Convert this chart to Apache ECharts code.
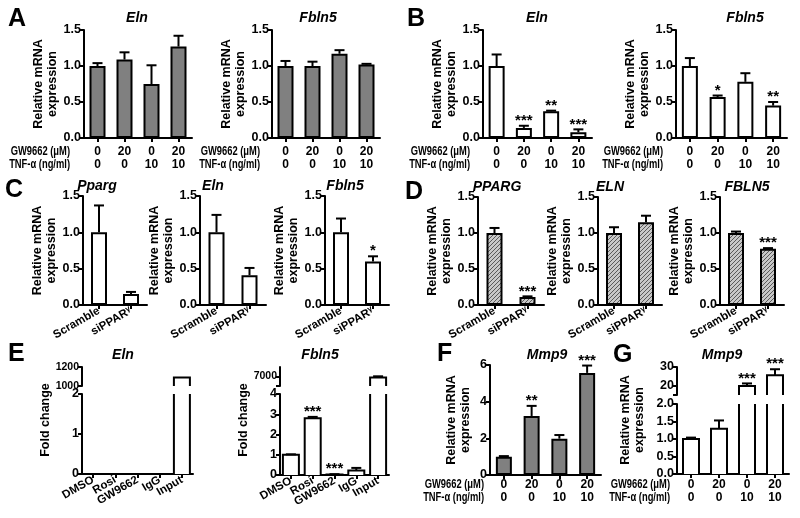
<!DOCTYPE html>
<html><head><meta charset="utf-8">
<script src="https://cdn.jsdelivr.net/npm/echarts@6/dist/echarts.min.js"></script>
<style>html,body{margin:0;padding:0;background:#fff}#c{width:800px;height:518px}</style>
</head><body><div id="c"></div><script>
// ---------- data ----------
const gwDose = ['0','20','0','20'];
const tnfDose = ['0','0','10','10'];
const siCats = ['Scramble','siPPARγ'];
const chipCats = ['DMSO','Rosi','GW9662','IgG','Input'];

const aElnVal=[1.00,1.09,0.75,1.27], aElnErr=[0.04,0.10,0.26,0.15];
const aFblVal=[1.00,1.00,1.17,1.02], aFblErr=[0.07,0.06,0.05,0.01];
const bElnVal=[1.00,0.14,0.37,0.08], bElnErr=[0.16,0.03,0.01,0.04], bElnSig=['','***','**','***'];
const bFblVal=[1.00,0.57,0.78,0.45], bFblErr=[0.11,0.02,0.12,0.05], bFblSig=['','*','','**'];
const cPpargVal=[1.00,0.15], cPpargErr=[0.37,0.03];
const cElnVal=[1.00,0.41], cElnErr=[0.24,0.10];
const cFblVal=[1.00,0.60], cFblErr=[0.19,0.07], cFblSig=['','*'];
const dPpargVal=[1.00,0.11], dPpargErr=[0.07,0.01], dPpargSig=['','***'];
const dElnVal=[1.00,1.15], dElnErr=[0.08,0.09];
const dFblVal=[1.00,0.78], dFblErr=[0.02,0.01], dFblSig=['','***'];
const eElnVal=[0,0,0,0,1090], eElnErr=[0,0,0,0,0];
const eFblVal=[1.00,2.80,0.03,0.22,6950], eFblErr=[0.02,0.07,0.01,0.13,60], eFblSig=['','***','***','',''];
const fMmpVal=[1.00,3.22,1.98,5.57], fMmpErr=[0.03,0.55,0.20,0.40], fMmpSig=['','**','','***'];
const gMmpVal=[1.00,1.29,19.8,25.6], gMmpErr=[0.04,0.24,1.4,3.2], gMmpSig=['','','***','***'];

const relTicks=[0,0.5,1.0,1.5];
const eElnLowTicks=[0,1,2], eElnUpTicks=[1000,1200];
const eFblLowTicks=[0,1,2,3,4], eFblUpTicks=[6500,7000,7500];
const fTicks=[0,2,4,6];
const gLowTicks=[0,0.5,1.0,1.5,2.0], gUpTicks=[15,20,30];

// ---------- helpers ----------
const FONT='"Liberation Sans", Arial, Helvetica, sans-serif';
const BLACK='#000';
const grids=[], xAxes=[], yAxes=[], series=[], graphic=[];

function hatch(){
  const c=document.createElement('canvas'); c.width=c.height=4;
  const g=c.getContext('2d'); g.fillStyle='#c8c8c8'; g.fillRect(0,0,4,4);
  g.strokeStyle='#5a5a5a'; g.lineWidth=1; g.beginPath(); g.moveTo(-1,5); g.lineTo(5,-1); g.stroke();
  return c;
}
const HATCH={image:hatch(), repeat:'repeat'};

function grid(left,top,width,height){
  grids.push({left,top,width,height,containLabel:false,outerBoundsMode:'none'});
  return grids.length-1;
}
function xAxis(gi,cats,o={}){
  const lab={show:true,interval:0,color:BLACK,fontFamily:FONT,fontWeight:'bold',fontSize:o.fs||12,
      rotate:o.rotate||0,margin:(o.margin!=null?o.margin:6),lineHeight:o.lh||13};
  if(o.fmt) lab.formatter=o.fmt;
  if(o.rich) lab.rich=o.rich;
  xAxes.push({type:'category',gridIndex:gi,data:cats,boundaryGap:true,show:o.show!==false,
    axisLine:{show:true,onZero:false,lineStyle:{color:BLACK,width:2}},
    axisTick:{show:true,alignWithLabel:true,length:4,lineStyle:{color:BLACK,width:2}},
    axisLabel:lab,
    splitLine:{show:false}});
  return xAxes.length-1;
}
function yAxis(gi,ticks,interval,o={}){
  const ax={type:'value',gridIndex:gi,min:ticks[0],max:ticks[ticks.length-1],interval,
    axisLine:{show:true,lineStyle:{color:BLACK,width:2}},
    axisTick:{show:true,length:4,lineStyle:{color:BLACK,width:2}},
    axisLabel:{show:true,color:BLACK,fontFamily:FONT,fontWeight:'bold',fontSize:o.fs||12.5,margin:3,formatter:o.fmt||(v=>String(v))},
    splitLine:{show:false},
    name:o.name||'',nameLocation:'middle',nameRotate:90,nameGap:o.nameGap||20,
    nameTextStyle:{color:BLACK,fontFamily:FONT,fontWeight:'bold',fontSize:12.5,lineHeight:14}};
  if(o.customTicks){ax.axisTick.customValues=o.customTicks;}
  if(o.customLabels){ax.axisLabel.customValues=o.customLabels;}
  yAxes.push(ax);
  return yAxes.length-1;
}
function bars(xi,yi,vals,fill,bw){
  series.push({type:'bar',xAxisIndex:xi,yAxisIndex:yi,data:vals,barWidth:bw||16,silent:true,z:2,
    itemStyle:{color:fill,borderColor:BLACK,borderWidth:2}});
}
function brokenBars(xi,yi,vals,lo,hi,fill,bw){
  series.push({type:'custom',xAxisIndex:xi,yAxisIndex:yi,data:vals.map((v,i)=>[i,v]),encode:{x:0,y:1},z:2,silent:true,
    renderItem:(p,api)=>{
      const i=api.value(0), v=api.value(1);
      if(!(v>lo)) return;
      const clipped=v>hi;
      const pb=api.coord([i,lo]), pt=api.coord([i,clipped?hi:v]);
      const xl=pb[0]-bw/2, xr=pb[0]+bw/2;
      const ch=[{type:'rect',shape:{x:xl,y:pt[1],width:bw,height:pb[1]-pt[1]},style:{fill:fill}}];
      if(clipped){
        ch.push({type:'line',shape:{x1:xl,y1:pb[1],x2:xl,y2:pt[1]},style:{stroke:BLACK,lineWidth:2}});
        ch.push({type:'line',shape:{x1:xr,y1:pb[1],x2:xr,y2:pt[1]},style:{stroke:BLACK,lineWidth:2}});
      } else {
        ch.push({type:'polyline',shape:{points:[[xl,pb[1]],[xl,pt[1]],[xr,pt[1]],[xr,pb[1]]]},style:{stroke:BLACK,lineWidth:2,fill:'none'}});
      }
      return {type:'group',children:ch};
    }});
}
function errs(xi,yi,vals,es,lo,hi){
  lo=(lo==null)?-Infinity:lo; hi=(hi==null)?Infinity:hi;
  series.push({type:'custom',xAxisIndex:xi,yAxisIndex:yi,data:vals.map((v,i)=>[i,v,es[i]]),encode:{x:0,y:1},z:3,silent:true,
    renderItem:(p,api)=>{
      const i=api.value(0), v=api.value(1), e=api.value(2);
      if(!e || v<lo || v+e>hi) return;
      const p0=api.coord([i,v]), p1=api.coord([i,v+e]);
      const hw=5;
      return {type:'group',children:[
        {type:'line',shape:{x1:p0[0],y1:p0[1],x2:p1[0],y2:p1[1]},style:{stroke:BLACK,lineWidth:2}},
        {type:'line',shape:{x1:p1[0]-hw,y1:p1[1],x2:p1[0]+hw,y2:p1[1]},style:{stroke:BLACK,lineWidth:2}}]};
    }});
}
function stars(xi,yi,vals,es,sig){
  series.push({type:'custom',xAxisIndex:xi,yAxisIndex:yi,data:vals.map((v,i)=>[i,v+es[i]]),encode:{x:0,y:1},z:4,silent:true,
    renderItem:(p,api)=>{
      const s=sig[p.dataIndex]; if(!s) return;
      const c=api.coord([api.value(0),api.value(1)]);
      return {type:'text',x:c[0],y:c[1]-5,style:{text:s,fill:BLACK,font:'bold 15px '+FONT,align:'center',verticalAlign:'middle'}};
    }});
}
function txt(x,y,s,font,align,extra){
  graphic.push(Object.assign({type:'text',x,y,silent:true,style:{text:s,font,fill:BLACK,align:align||'center',verticalAlign:'middle',lineHeight:14}},extra||{}));
}
const fmt1=v=>v.toFixed(1);
const doseCats=gwDose.map((g,i)=>g+'\n'+tnfDose[i]);
const REL='Relative mRNA\nexpression';

function stdPanel(rect,cats,vals,es,sig,fill,xo,nameGap){
  const gi=grid(rect[0],rect[1],rect[2],rect[3]);
  const xi=xAxis(gi,cats,xo);
  const yi=yAxis(gi,relTicks,0.5,{fmt:fmt1,name:REL,nameGap:nameGap||20});
  bars(xi,yi,vals,fill,16);
  errs(xi,yi,vals,es);
  if(sig) stars(xi,yi,vals,es,sig);
}
function doseRows(xRight,y1,y2){
  txt(xRight,y1,'GW9662 (μM)','bold 12px '+FONT,'right',{scaleX:0.78});
  txt(xRight,y2,'TNF-α (ng/ml)','bold 12px '+FONT,'right',{scaleX:0.78});
}
const GRAY='#808080', WHITE='#ffffff';
const doseX={margin:7.5,lh:13};
const siFmt=v=>v.replace('γ','{g|γ}');
const rotX={rotate:30,margin:5,fs:11.5,fmt:siFmt,rich:{g:{fontSize:8,fontWeight:'bold',fontFamily:FONT,color:BLACK,verticalAlign:'top',padding:[0,0,5,0]}}};

// ---------- panel A ----------
stdPanel([84,30,108,108],doseCats,aElnVal,aElnErr,null,GRAY,doseX,21);
stdPanel([272,30,108,108],doseCats,aFblVal,aFblErr,null,GRAY,doseX,17);
doseRows(70,152,165); doseRows(260,152,165);
// ---------- panel B ----------
stdPanel([483,30,109,108],doseCats,bElnVal,bElnErr,bElnSig,WHITE,doseX,21);
stdPanel([676,30,111,108],doseCats,bFblVal,bFblErr,bFblSig,WHITE,doseX,21);
doseRows(470,152,165); doseRows(663,152,165);
// ---------- panel C ----------
stdPanel([83,196,64,109],siCats,cPpargVal,cPpargErr,null,WHITE,rotX,21);
stdPanel([200,196,66,109],siCats,cElnVal,cElnErr,null,WHITE,rotX,15);
stdPanel([325,196,64,109],siCats,cFblVal,cFblErr,cFblSig,WHITE,rotX,18);
// ---------- panel D ----------
stdPanel([478,197,66,108],siCats,dPpargVal,dPpargErr,dPpargSig,HATCH,rotX,17);
stdPanel([598,197,64,108],siCats,dElnVal,dElnErr,null,HATCH,rotX,17);
stdPanel([720,197,64,108],siCats,dFblVal,dFblErr,dFblSig,HATCH,rotX,17);

// ---------- panel E (broken axes) ----------
(function(){
  const eX={rotate:30,margin:5,fs:11.5};
  // Eln
  let gL=grid(82,394,111,80), gU=grid(82,367,111,19);
  let xL=xAxis(gL,chipCats,eX), xU=xAxis(gU,chipCats,{show:false});
  let yL=yAxis(gL,eElnLowTicks,1,{}), yU=yAxis(gU,eElnUpTicks,200,{fs:10.5});
  brokenBars(xL,yL,eElnVal,0,2,WHITE,16); brokenBars(xU,yU,eElnVal,1000,1200,WHITE,16);
  errs(xL,yL,eElnVal,eElnErr,0,2); errs(xU,yU,eElnVal,eElnErr,1000,1200);
  // Fbln5
  gL=grid(280,394,109,81); gU=grid(280,367,109,19);
  xL=xAxis(gL,chipCats,eX); xU=xAxis(gU,chipCats,{show:false});
  yL=yAxis(gL,eFblLowTicks,1,{});
  yU=yAxis(gU,eFblUpTicks,500,{fs:10.5,fmt:v=>(v===7000?'7000':''),customTicks:[6500,7000],customLabels:[7000]});
  brokenBars(xL,yL,eFblVal,0,4,WHITE,16); brokenBars(xU,yU,eFblVal,6500,7500,WHITE,16);
  errs(xL,yL,eFblVal,eFblErr,0,4); errs(xU,yU,eFblVal,eFblErr,6500,7500);
  stars(xL,yL,eFblVal,eFblErr,eFblSig.map((s,i)=>eFblVal[i]<4?s:''));
  txt(46,420,'Fold change','bold 12.5px '+FONT,'center',{rotation:Math.PI/2});
  txt(244,420,'Fold change','bold 12.5px '+FONT,'center',{rotation:Math.PI/2});
})();

// ---------- panel F ----------
(function(){
  const gi=grid(490,365,111,110);
  const xi=xAxis(gi,doseCats,{margin:3.5,lh:13});
  const yi=yAxis(gi,fTicks,2,{name:REL,nameGap:17});
  bars(xi,yi,fMmpVal,GRAY,16); errs(xi,yi,fMmpVal,fMmpErr); stars(xi,yi,fMmpVal,fMmpErr,fMmpSig);
  doseRows(484,485,498);
})();

// ---------- panel G (broken axis) ----------
(function(){
  const gL=grid(677,404,112,70), gU=grid(677,367,112,28);
  const xL=xAxis(gL,doseCats,{margin:4.5,lh:13}), xU=xAxis(gU,doseCats,{show:false});
  const yL=yAxis(gL,gLowTicks,0.5,{fmt:fmt1});
  const yU=yAxis(gU,gUpTicks,5,{fmt:v=>(v===20||v===30)?String(v):'',customTicks:[15,20,30],customLabels:[20,30]});
  brokenBars(xL,yL,gMmpVal,0,2,WHITE,16); brokenBars(xU,yU,gMmpVal,15,30,WHITE,16);
  errs(xL,yL,gMmpVal,gMmpErr,0,2); errs(xU,yU,gMmpVal,gMmpErr,15,30);
  stars(xU,yU,gMmpVal,gMmpErr,gMmpSig);
  txt(633,420,REL,'bold 12.5px '+FONT,'center',{rotation:Math.PI/2});
  doseRows(670,485,498);
})();

// ---------- titles & panel letters ----------
const TF='italic bold 14px '+FONT;
[[137,18,'Eln'],[318,18,'Fbln5'],[537,18,'Eln'],[745,18,'Fbln5'],
 [97,186,'Pparg'],[213,186,'Eln'],[345,186,'Fbln5'],
 [497,187,'PPARG'],[610,187,'ELN'],[747,187,'FBLN5'],
 [123,355,'Eln'],[320,355,'Fbln5'],[547,355,'Mmp9'],[722,355,'Mmp9']].forEach(t=>txt(t[0],t[1],t[2],TF));
const LF='bold 25px '+FONT;
[[8,19,'A'],[407,19,'B'],[5,190,'C'],[405,192,'D'],[8,354,'E'],[437,354,'F'],[613,355,'G']].forEach(t=>txt(t[0],t[1],t[2],LF,'left'));

const chart=echarts.init(document.getElementById('c'),null,{renderer:'canvas'});
chart.setOption({animation:false,backgroundColor:'#fff',grid:grids,xAxis:xAxes,yAxis:yAxes,series,graphic});
</script></body></html>
